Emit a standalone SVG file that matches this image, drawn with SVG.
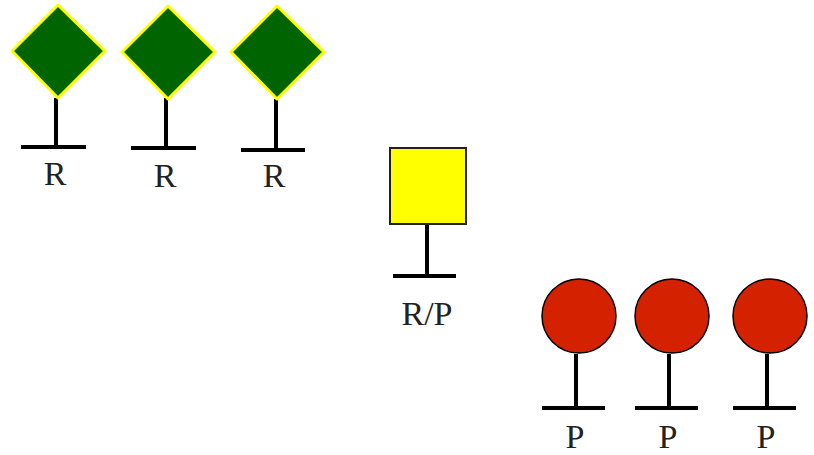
<svg xmlns="http://www.w3.org/2000/svg" width="814" height="455" viewBox="0 0 814 455">
<style>
.post{stroke:#000;stroke-width:4;fill:none}
.dia{fill:#006400;stroke:#ffff00;stroke-width:3;stroke-linejoin:round}
.sq{fill:#ffff00;stroke:#222;stroke-width:2}
.circ{fill:#d42200;stroke:#000;stroke-width:1.5}
.lbl{font-family:"Liberation Serif",serif;font-size:34px;fill:#222;text-anchor:middle}
</style>
<rect width="814" height="455" fill="#fff"/>
<g id="connectors">
<path class="post" d="M56 98V147M21 147H86"/>
<path class="post" d="M166 98V148M131 148H196"/>
<path class="post" d="M276 99V150M241 150H305"/>
<path class="post" d="M427 224V276M393 276H456"/>
<path class="post" d="M576 354V408M542 408H605"/>
<path class="post" d="M669 354V408M635 408H698"/>
<path class="post" d="M767 354V408M733 408H796"/>
</g>
<g id="r1"><polygon class="dia" points="58,5 105,51 58,98 12,51"/><text class="lbl" x="55" y="185">R</text></g>
<g id="r2"><polygon class="dia" points="168,6 215,52 168,99 122,52"/><text class="lbl" x="165" y="187">R</text></g>
<g id="r3"><polygon class="dia" points="277,6 324,52 277,99 231,52"/><text class="lbl" x="274" y="187">R</text></g>
<g id="rp"><rect class="sq" x="390" y="148" width="76" height="76"/><text class="lbl" x="427" y="325">R/P</text></g>
<g id="p1"><circle class="circ" cx="579" cy="316" r="37"/><text class="lbl" x="575" y="448">P</text></g>
<g id="p2"><circle class="circ" cx="672" cy="316" r="37"/><text class="lbl" x="668" y="448">P</text></g>
<g id="p3"><circle class="circ" cx="770" cy="316" r="37"/><text class="lbl" x="766" y="448">P</text></g>
</svg>
